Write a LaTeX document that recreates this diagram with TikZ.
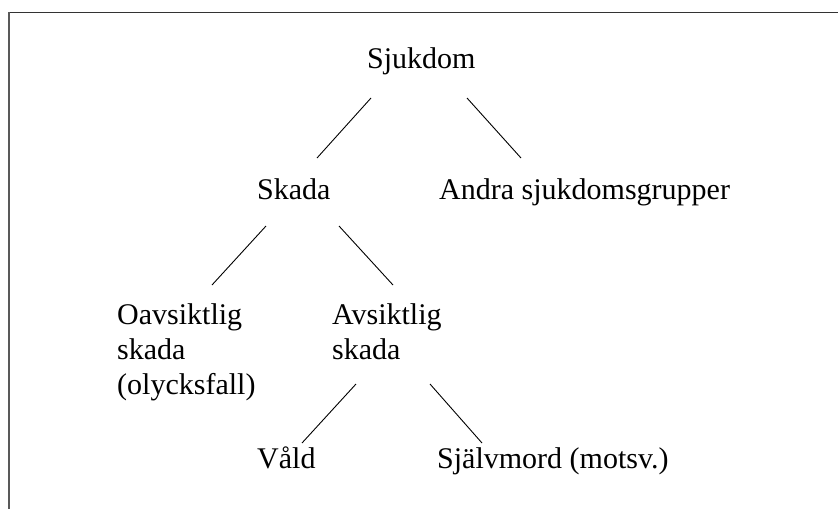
\documentclass[tikz,border=0pt]{standalone}
\usepackage{fontspec}
\setmainfont{Liberation Serif}
\begin{document}
\begin{tikzpicture}[x=1pt,y=-1pt,
  lbl/.style={anchor=base west,inner sep=0pt,font=\fontsize{30}{35}\selectfont},
  edge/.style={line width=0.9pt,black},
  frametop/.style={line width=1.5pt,color=black!80},
  frameleft/.style={line width=2pt,color=black!65}]
\useasboundingbox (0,0) rectangle (838,509);
\draw[frametop] (8,12.3) -- (838,12.3);
\draw[frameleft] (8.6,12) -- (8.6,509);
% nodes
\node[lbl] (sjukdom) at (367,68) {Sjukdom};
\node[lbl] (skada) at (257,199) {Skada};
\node[lbl] (andra) at (439,199) {Andra sjukdomsgrupper};
\node[lbl] (oav1) at (117,324) {Oavsiktlig};
\node[lbl] (oav2) at (117,359) {skada};
\node[lbl] (oav3) at (117,394) {(olycksfall)};
\node[lbl] (av1) at (332,324) {Avsiktlig};
\node[lbl] (av2) at (332,359) {skada};
\node[lbl] (vald) at (257,468) {Våld};
\node[lbl] (sjalv) at (437,468) {Självmord (motsv.)};
% connector end points
\coordinate (s1) at (371,98);  \coordinate (k1) at (317,158);
\coordinate (s2) at (467,98);  \coordinate (a1) at (521,158);
\coordinate (k2) at (266,226); \coordinate (o1) at (212,285);
\coordinate (k3) at (339,226); \coordinate (v1) at (393,285);
\coordinate (v2) at (356,384); \coordinate (w1) at (302,443);
\coordinate (v3) at (430,384); \coordinate (m1) at (482,443);
\draw[edge] (s1) -- (k1);
\draw[edge] (s2) -- (a1);
\draw[edge] (k2) -- (o1);
\draw[edge] (k3) -- (v1);
\draw[edge] (v2) -- (w1);
\draw[edge] (v3) -- (m1);
\end{tikzpicture}
\end{document}
